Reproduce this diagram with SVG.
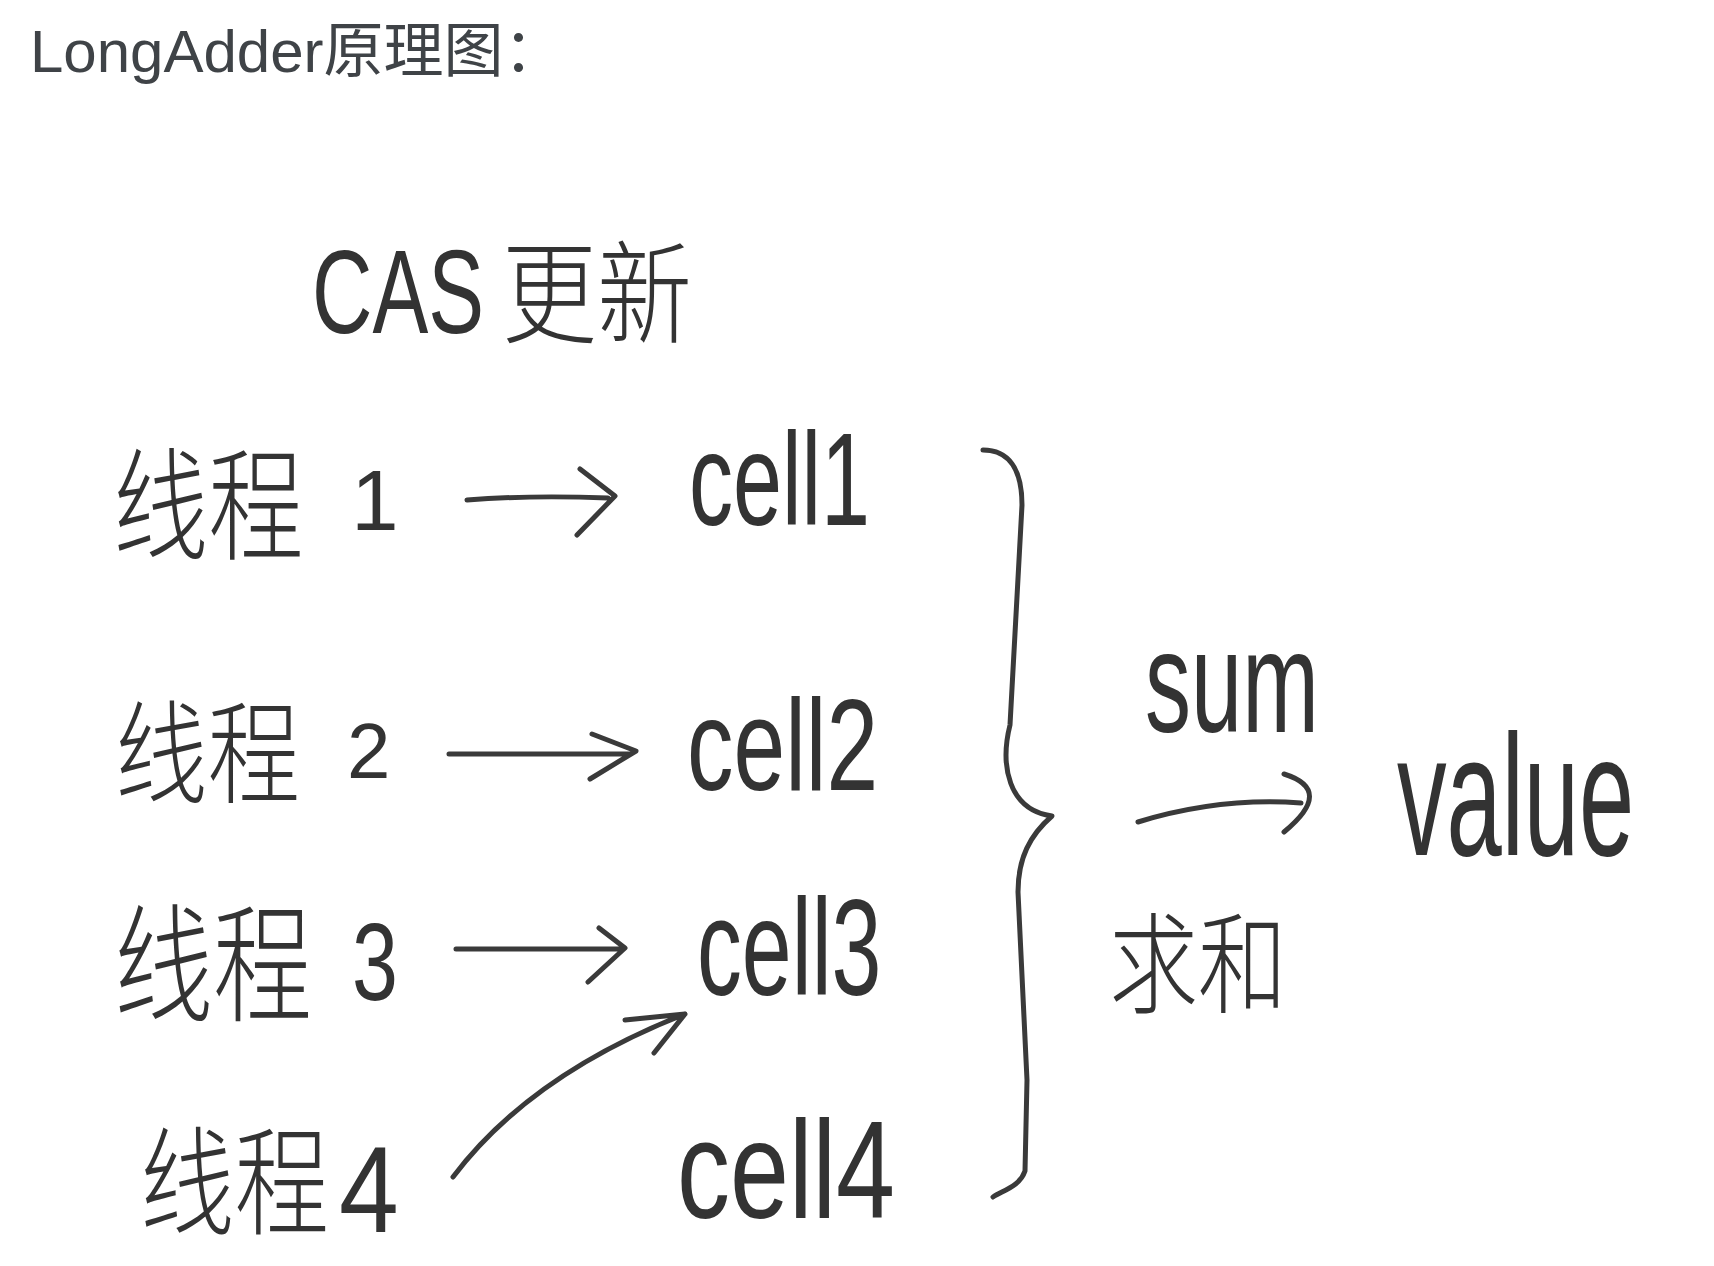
<svg xmlns="http://www.w3.org/2000/svg" width="1714" height="1266" viewBox="0 0 1714 1266">
<style>
.title{font-family:"Liberation Sans","Noto Sans CJK SC",sans-serif;font-size:60px;fill:#3f4347}
.hw{font-family:"Noto Sans CJK SC","Noto Sans CJK JP",sans-serif;font-weight:300;fill:#333}
.lat{font-family:"Liberation Sans","DejaVu Sans",sans-serif;fill:#333}
.ln{fill:none;stroke:#3a3a3a;stroke-width:5;stroke-linecap:round;stroke-linejoin:round}
</style>
<rect width="1714" height="1266" fill="#ffffff"/>
<g id="title"><text class="title" x="30" y="72">LongAdder原理图：</text></g>
<g id="cas-label">
<text class="lat" font-size="118" transform="translate(312,333) scale(0.709,1)">CAS</text>
<text class="hw" font-size="112" transform="translate(502,335) scale(0.848,1)">更新</text>
</g>
<g id="thread1">
<text class="hw" font-size="122" transform="translate(113,550) scale(0.78,1)">线程</text>
<text class="lat" x="375" y="530" font-size="85" text-anchor="middle">1</text>
</g>
<g id="thread2">
<text class="hw" font-size="112" transform="translate(115,795) scale(0.826,1)">线程</text>
<text class="lat" x="347" y="778" font-size="78">2</text>
</g>
<g id="thread3">
<text class="hw" font-size="128" transform="translate(114,1012) scale(0.773,1)">线程</text>
<text class="lat" font-size="110" transform="translate(352,1000) scale(0.75,1)">3</text>
</g>
<g id="thread4">
<text class="hw" font-size="118" transform="translate(140,1226) scale(0.8,1)">线程</text>
<text class="lat" font-size="122" transform="translate(339,1232) scale(0.88,1)">4</text>
</g>
<g id="cell1"><text class="lat" font-size="132" transform="translate(689,525) scale(0.667,1)">cell1</text></g>
<g id="cell2"><text class="lat" font-size="130" transform="translate(687,790) scale(0.715,1)">cell2</text></g>
<g id="cell3"><text class="lat" font-size="138" transform="translate(697,995) scale(0.65,1)">cell3</text></g>
<g id="cell4"><text class="lat" font-size="140" transform="translate(677,1218) scale(0.757,1)">cell4</text></g>
<g id="sum-label"><text class="lat" font-size="145" transform="translate(1145,732) scale(0.635,1)">sum</text></g>
<g id="value"><text class="lat" font-size="172" transform="translate(1397,855) scale(0.577,1)">value</text></g>
<g id="qiuhe-label"><text class="hw" font-size="110" transform="translate(1109,1005) scale(0.81,1)">求和</text></g>
<g id="connectors">
<path class="ln" d="M467,500 Q530,495 608,498 M580,469 L615,496 L577,535"/>
<path class="ln" d="M449,754 L631,754 M592,734 L636,751 L590,779"/>
<path class="ln" d="M456,949 L620,949 M599,928 L625,948 L588,982"/>
<path class="ln" d="M453,1177 Q530,1075 685,1014 M625,1020 L685,1014 L654,1053"/>
<path class="ln" d="M983,450 C1008,450 1022,468 1022,505 L1010,725 C1000,765 1008,810 1052,816 C1030,835 1018,858 1018,892 L1027,1080 L1025,1171 C1020,1186 1004,1190 993,1197" stroke="#555"/>
<path class="ln" d="M1138,822 Q1220,797 1301,803 M1284,774 Q1335,790 1284,832"/>
</g>
</svg>
